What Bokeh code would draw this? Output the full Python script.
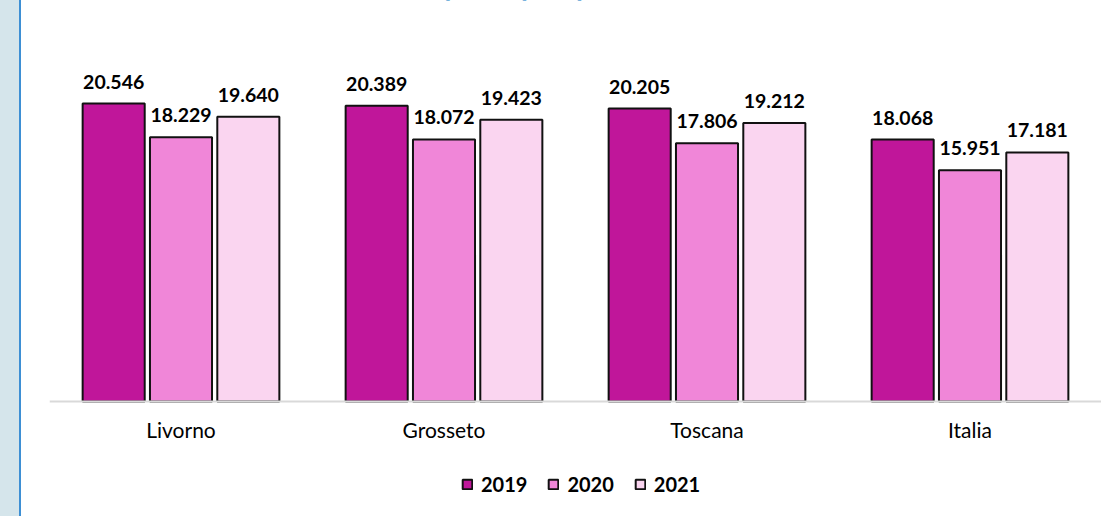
from bokeh.plotting import figure
from bokeh.models import ColumnDataSource, FactorRange, Range1d, Legend, LegendItem, CategoricalAxis
from bokeh.transform import dodge
from bokeh.core.properties import value
from bokeh.embed import file_html
from bokeh.resources import INLINE

categories = ["Livorno", "Grosseto", "Toscana", "Italia"]
years = ["2019", "2020", "2021"]
v2019 = [20.546, 20.389, 20.205, 18.068]
v2020 = [18.229, 18.072, 17.806, 15.951]
v2021 = [19.640, 19.423, 19.212, 17.181]
title_text = "Reddito medio pro capite per abitante"

colors = ["#C0169A", "#F086D8", "#FAD5F0"]
offsets = [-0.256, 0.0, 0.256]
Y_MIN = -7.93
Y_MAX = 27.655

src = ColumnDataSource(dict(
    cat=categories,
    v2019=v2019, v2020=v2020, v2021=v2021,
    l2019=[f"{v:.3f}" for v in v2019],
    l2020=[f"{v:.3f}" for v in v2020],
    l2021=[f"{v:.3f}" for v in v2021],
))

p = figure(x_range=FactorRange(factors=categories, range_padding=0),
           y_range=Range1d(Y_MIN, Y_MAX),
           width=1101, height=516, output_backend="svg", toolbar_location=None,
           x_axis_location=None, y_axis_location=None,
           min_border_left=49, min_border_right=0, min_border_top=0, min_border_bottom=0)
p.border_fill_color = None
p.background_fill_color = "white"
p.outline_line_color = None
p.xgrid.visible = False
p.ygrid.visible = False
p.styles = {
    "background": "linear-gradient(to right, #D5E5EB 0px, #D5E5EB 19px, #3D8FD4 19px, #3D8FD4 21px, #FFFFFF 21px)",
}

items = []
for yr, off, col in zip(years, offsets, colors):
    r = p.vbar(x=dodge("cat", off, range=p.x_range), top="v" + yr, bottom=0, width=0.236, source=src,
               fill_color=col, line_color="#111111", line_width=2)
    p.text(x=dodge("cat", off, range=p.x_range), y="v" + yr, text="l" + yr, source=src,
           text_align="center", text_baseline="alphabetic", y_offset=-22,
           text_font=value("Lato"), text_font_style="bold", text_font_size="19.5px",
           text_color="#000000")
    items.append(LegendItem(label=yr, renderers=[r]))

p.text(x=[categories[0]], y=[Y_MAX], text=[title_text], x_offset=75, y_offset=-16,
       text_align="left", text_baseline="alphabetic", text_font=value("Lato"),
       text_font_style="bold", text_font_size="28px", text_color="#0070C0")

ax = CategoricalAxis(fixed_location=0)
ax.axis_line_color = "#D9D9D9"
ax.axis_line_width = 2
ax.major_tick_line_color = None
ax.minor_tick_line_color = None
ax.major_tick_out = 0
ax.major_tick_in = 0
ax.major_label_standoff = 15
ax.major_label_text_font = "Lato"
ax.major_label_text_font_size = "21px"
ax.major_label_text_color = "#000000"
p.add_layout(ax, "below")

legend = Legend(items=items, orientation="horizontal", location=(412, 20),
                glyph_width=12, glyph_height=12, label_standoff=8, spacing=20,
                label_text_font="Lato", label_text_font_style="bold",
                label_text_font_size="20px", label_text_color="#000000",
                border_line_color=None, background_fill_alpha=0, margin=0, padding=0)
p.add_layout(legend, "center")

open("out.html", "w").write(file_html(p, INLINE))
